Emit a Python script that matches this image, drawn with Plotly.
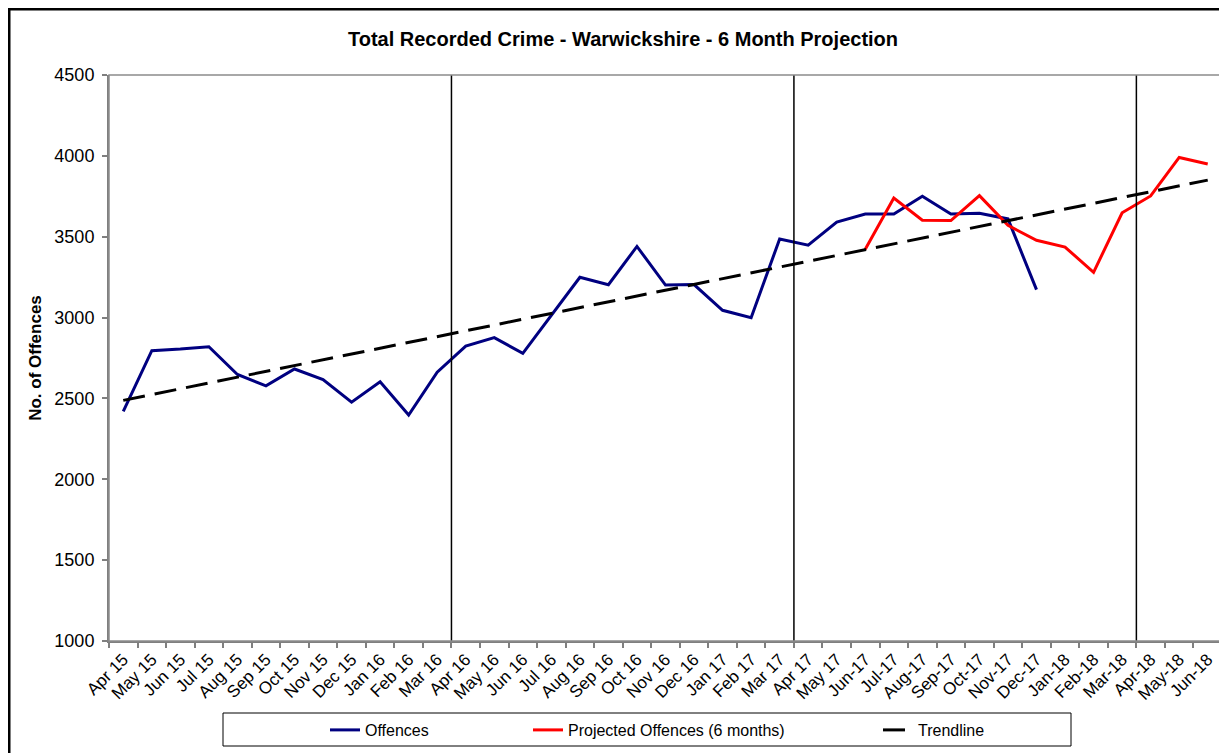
import plotly.graph_objects as go

# ---------------- data ----------------
months = ["Apr 15", "May 15", "Jun 15", "Jul 15", "Aug 15", "Sep 15", "Oct 15", "Nov 15",
          "Dec 15", "Jan 16", "Feb 16", "Mar 16", "Apr 16", "May 16", "Jun 16", "Jul 16",
          "Aug 16", "Sep 16", "Oct 16", "Nov 16", "Dec 16", "Jan 17", "Feb 17", "Mar 17",
          "Apr 17", "May 17", "Jun-17", "Jul-17", "Aug-17", "Sep-17", "Oct-17", "Nov-17",
          "Dec-17", "Jan-18", "Feb-18", "Mar-18", "Apr-18", "May-18", "Jun-18"]

offences = [2420, 2795, 2805, 2820, 2648, 2578, 2682, 2617, 2477, 2603, 2397, 2662,
            2824, 2876, 2779, 3012, 3249, 3203, 3440, 3201, 3204, 3045, 2999, 3486,
            3448, 3590, 3640, 3640, 3750, 3640, 3645, 3610, 3173]
offences_months = months[:len(offences)]

projected = [3423, 3739, 3602, 3600, 3754, 3570, 3478, 3436, 3280, 3648, 3752, 3990, 3950]
projected_months = months[len(months) - len(projected):]

trend_months = [months[0], months[-1]]
trend_values = [2488, 3850]

year_starts = ["Apr 16", "Apr 17", "Apr-18"]

FONT = "Arial, Liberation Sans, sans-serif"

# ---------------- geometry (page has an 8px body margin) ----------------
OFF = 8
W, H = 1227 - OFF, 753 - OFF
L = 109 - OFF
T = 75 - OFF
R = W - (1222 - OFF)
B = H - (641 - OFF)
PW, PH = W - L - R, H - T - B


def px_x(px):
    return (px - OFF - L) / PW


def px_y(py):
    return (H - B - (py - OFF)) / PH


fig = go.Figure()
fig.add_trace(go.Scatter(x=offences_months, y=offences, mode="lines", name="Offences",
                         line=dict(color="#000080", width=3), legend="legend"))
fig.add_trace(go.Scatter(x=projected_months, y=projected, mode="lines",
                         name="Projected Offences (6 months)",
                         line=dict(color="#FF0000", width=3), legend="legend2"))
fig.add_trace(go.Scatter(x=trend_months, y=trend_values, mode="lines", name="Trendline",
                         line=dict(color="black", width=3, dash="22px,10px"),
                         legend="legend3"))

shapes = []
for m in year_starts:
    xi = months.index(m) - 0.5
    shapes.append(dict(type="line", xref="x", yref="y", x0=xi, x1=xi, y0=1000, y1=4500,
                       line=dict(color="black", width=1.5), layer="above"))
# outer chart border
shapes.append(dict(type="rect", xref="paper", yref="paper",
                   x0=px_x(9), x1=px_x(1250), y0=px_y(780), y1=px_y(9),
                   line=dict(color="black", width=3)))
# legend box
shapes.append(dict(type="rect", xref="paper", yref="paper",
                   x0=px_x(223), x1=px_x(1071), y0=px_y(746), y1=px_y(713),
                   line=dict(color="black", width=1)))
# plot area border
shapes.append(dict(type="rect", xref="paper", yref="paper", x0=0, x1=1, y0=0, y1=1,
                   line=dict(color="#8c8c8c", width=1.5)))

leg_common = dict(orientation="h", yanchor="middle", xanchor="left", y=px_y(730),
                  bgcolor="rgba(0,0,0,0)", borderwidth=0,
                  font=dict(family=FONT, size=16, color="black"))

fig.update_layout(
    width=W, height=H,
    margin=dict(l=L, r=R, t=T, b=B, autoexpand=False),
    paper_bgcolor="white", plot_bgcolor="white",
    font=dict(family=FONT, color="black"),
    showlegend=True,
    title=dict(text="Total Recorded Crime - Warwickshire - 6 Month Projection",
               xref="container", yref="container", x=(623 - OFF) / W, y=1 - (39 - OFF) / H,
               xanchor="center", yanchor="middle",
               font=dict(family=FONT, size=20, color="black", weight="bold")),
    xaxis=dict(type="category", categoryorder="array", categoryarray=months,
               range=[-0.5, len(months) - 0.5], tickson="boundaries",
               ticks="outside", ticklen=5, tickcolor="#7f7f7f", tickwidth=1.5,
               showline=True, linecolor="#7f7f7f", linewidth=2, automargin=False,
               showgrid=False, zeroline=False, tickangle=-45,
               tickfont=dict(family=FONT, size=17, color="black")),
    yaxis=dict(range=[1000, 4500], tickvals=[1000, 1500, 2000, 2500, 3000, 3500, 4000, 4500],
               ticks="outside", ticklen=5, tickcolor="#7f7f7f", tickwidth=1.5,
               showline=True, linecolor="#7f7f7f", linewidth=2, automargin=False,
               showgrid=False, zeroline=False, ticklabelstandoff=4,
               tickfont=dict(family=FONT, size=18, color="black"),
               title=dict(text="No. of Offences", standoff=8,
                          font=dict(family=FONT, size=17, color="black", weight="bold"))),
    shapes=shapes,
    legend=dict(x=px_x(325), **leg_common),
    legend2=dict(x=px_x(528), **leg_common),
    legend3=dict(x=px_x(878), **leg_common),
)

fig.write_html("out.html")
